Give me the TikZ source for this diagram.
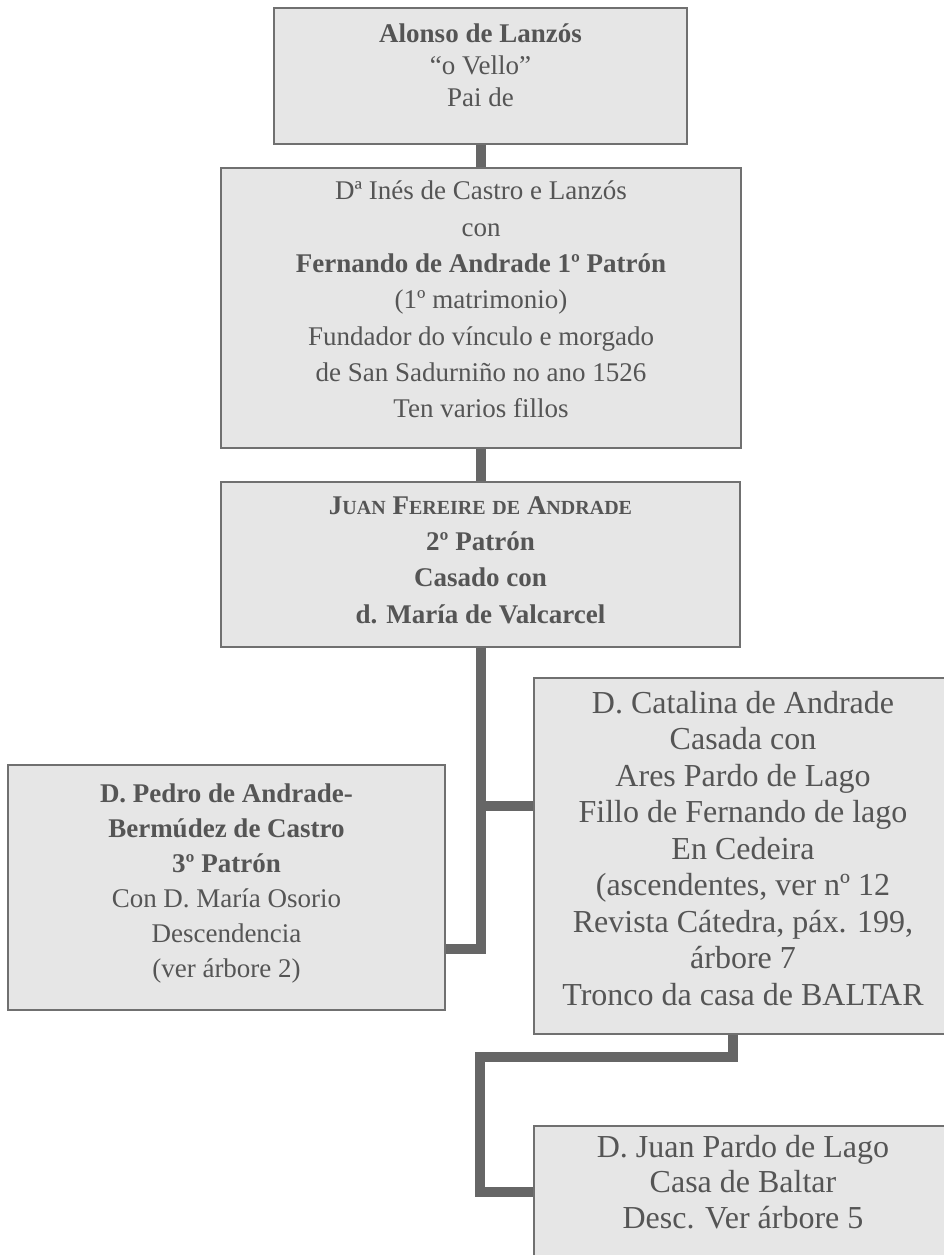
\documentclass[tikz,border=0pt]{standalone}
\usepackage{fontspec}
\setmainfont{Liberation Serif}
\definecolor{boxfill}{HTML}{E6E6E6}
\definecolor{boxline}{HTML}{707070}
\definecolor{inkgray}{HTML}{555555}
\definecolor{linkgray}{HTML}{666666}
\tikzset{
  person/.style={rectangle, draw=boxline, line width=1.5pt, fill=boxfill, text=inkgray, inner sep=0pt},
  link/.style={draw=linkgray, line width=10pt, line join=miter},
}
% centred lines, lifted a little inside the box
\newcommand{\lift}[2]{\raisebox{#1}[\height][\depth]{\begin{tabular}{@{}c@{}}#2\end{tabular}}}
% small capitals by hand
\newcommand{\sm}[1]{{\fontsize{20}{36}\selectfont #1}}

\begin{document}
\begin{tikzpicture}[x=1pt,y=-1pt]
\useasboundingbox (0,0) rectangle (943,1255);

\node[person, minimum width=413pt, minimum height=136pt, font=\fontsize{27}{32}\selectfont] (alonso) at (480.5,76)
  {\lift{7.5pt}{\textbf{Alonso de Lanzós}\\“o Vello”\\Pai de}};
\node[person, minimum width=520pt, minimum height=280pt, font=\fontsize{27}{36.3}\selectfont] (ines) at (481,308)
  {\lift{6.5pt}{Dª Inés de Castro e Lanzós\\con\\\textbf{Fernando de Andrade 1º Patrón}\\(1º matrimonio)\\Fundador do vínculo e morgado\\de San Sadurniño no ano 1526\\Ten varios fillos}};
\node[person, minimum width=519pt, minimum height=165pt, font=\fontsize{27}{36.4}\selectfont\bfseries] (juan) at (480.5,564.5)
  {\lift{3pt}{J\sm{UAN} F\sm{EREIRE} \sm{DE} A\sm{NDRADE}\\2º Patrón\\Casado con\\d. María de Valcarcel}};
\node[person, minimum width=437pt, minimum height=245pt, font=\fontsize{27}{35}\selectfont] (pedro) at (226.5,887.5)
  {\lift{5pt}{\textbf{D. Pedro de Andrade-}\\\textbf{Bermúdez de Castro}\\\textbf{3º Patrón}\\Con D. María Osorio\\Descendencia\\(ver árbore 2)}};
\node[person, minimum width=440pt, minimum height=356pt, font=\fontsize{32}{36.5}\selectfont] (catalina) at (754,856)
  {\hspace*{-22pt}\lift{4pt}{D. Catalina de Andrade\\Casada con\\Ares Pardo de Lago\\Fillo de Fernando de lago\\En Cedeira\\(ascendentes, ver nº 12\\Revista Cátedra, páx. 199,\\árbore 7\\Tronco da casa de BALTAR}};
\node[person, minimum width=440pt, minimum height=160pt, font=\fontsize{32}{35.5}\selectfont] (pardo) at (754,1206)
  {\hspace*{-22pt}\lift{20.5pt}{D. Juan Pardo de Lago\\Casa de Baltar\\Desc. Ver árbore 5}};

\draw[link] (alonso.south) -- (alonso.south |- ines.north);
\draw[link] (ines.south) -- (ines.south |- juan.north);
\draw[link] (juan.south) |- ([yshift=-61.5pt]pedro.east);
\draw[link] (juan.south) |- ([yshift=50pt]catalina.west);
\coordinate (bend) at (480,1057);
\draw[link] ([xshift=-21pt]catalina.south) |- (bend) |- ([yshift=14pt]pardo.west);
\end{tikzpicture}
\end{document}
